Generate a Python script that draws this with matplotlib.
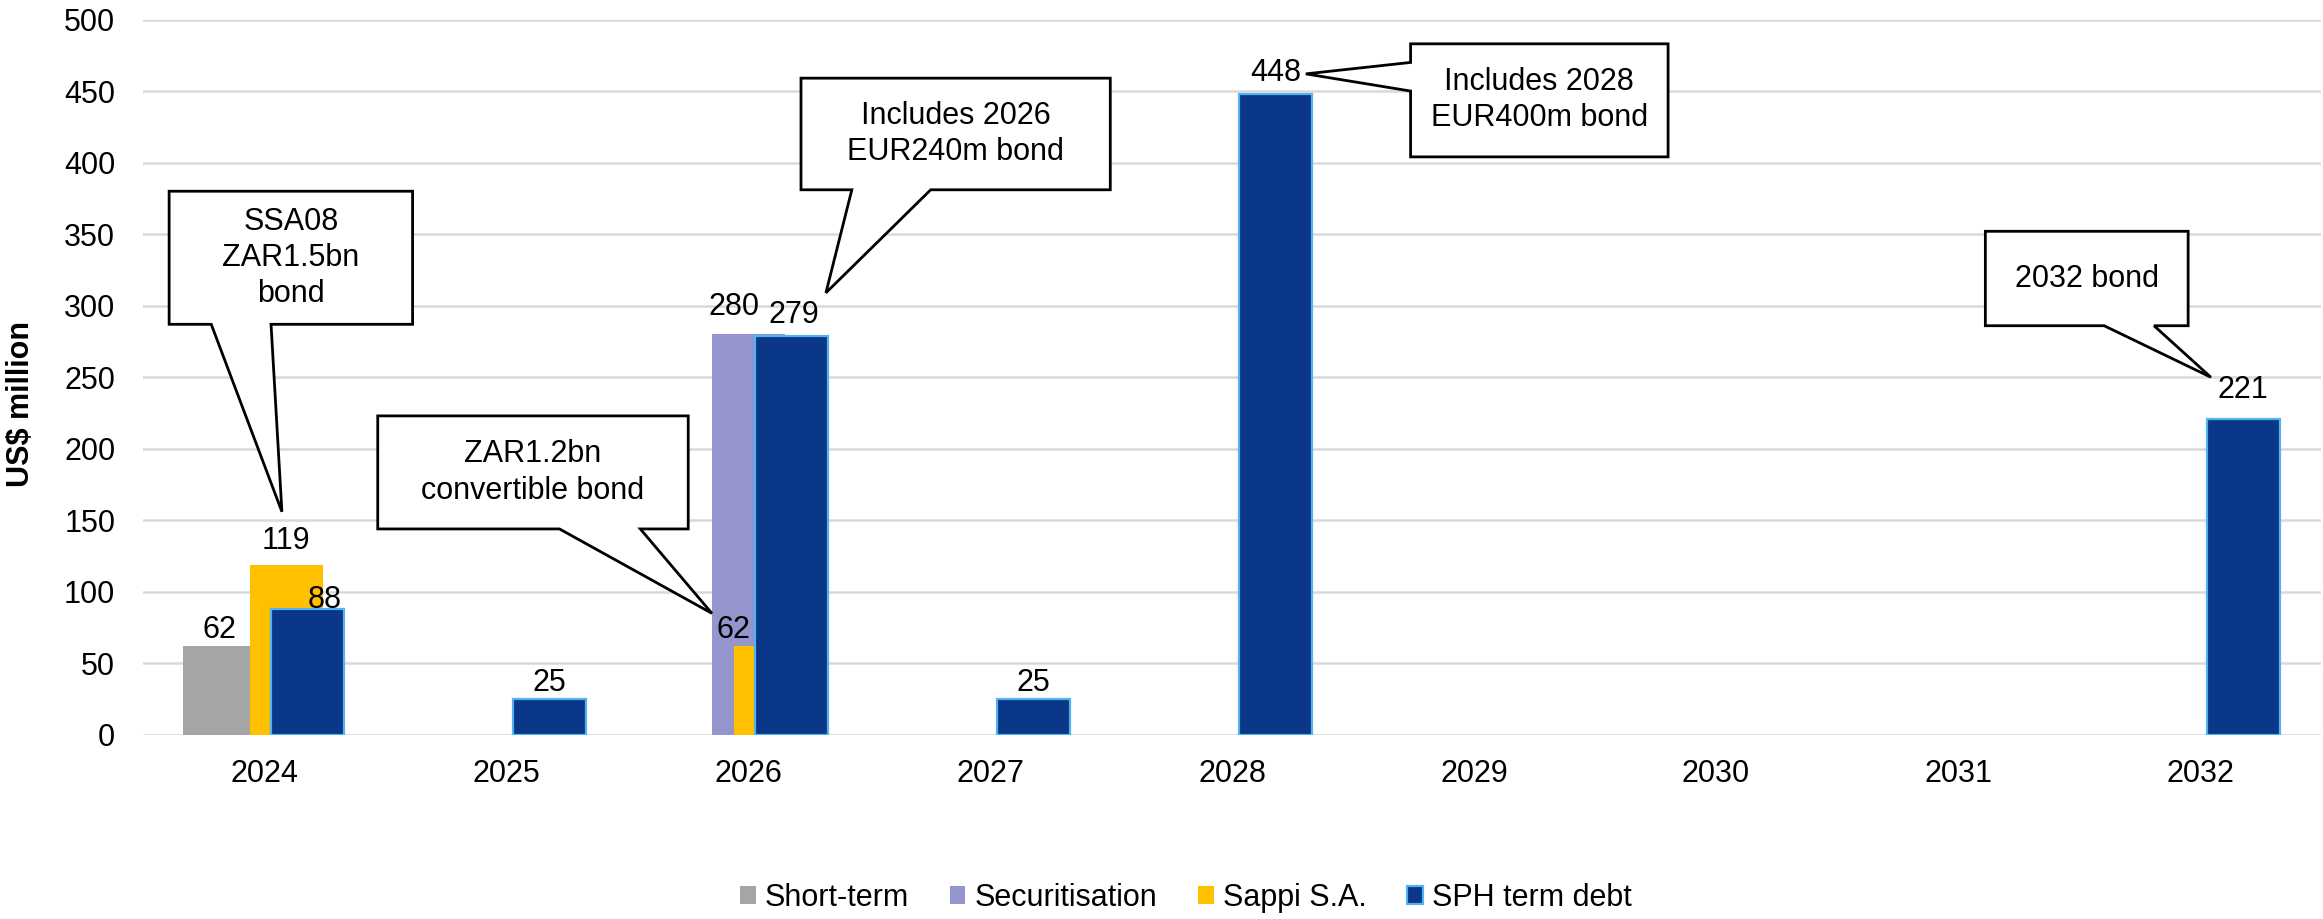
import numpy as np
import matplotlib
matplotlib.use('Agg')
import matplotlib.pyplot as plt
from matplotlib.patches import Polygon, Patch

plt.rcParams['font.family'] = ['Liberation Sans', 'DejaVu Sans']

#================================================================
# Debt maturity profile (US$ million)
years = ['2024', '2025', '2026', '2027', '2028', '2029', '2030', '2031', '2032']
short_term     = [62, None, None, None, None, None, None, None, None]
securitisation = [None, None, 280, None, None, None, None, None, None]
sappi_sa       = [119, None, 62, None, None, None, None, None, None]
sph_term_debt  = [88, 25, 279, 25, 448, None, None, None, 221]

series_names = ['Short-term', 'Securitisation', 'Sappi S.A.', 'SPH term debt']

#================================================================
# bar styling: (left offset within category, width, face, edge)
styles = {
    'Short-term':     (-0.334, 0.300, '#A5A5A5', None),
    'Securitisation': (-0.148, 0.300, '#9595CE', None),
    'Sappi S.A.':     (-0.058, 0.300, '#FFC000', None),
    'SPH term debt':  (0.029, 0.300, '#0B3788', '#55B2F2'),
}

# hand placed label nudges in pixels (dx, dy)
nudges = {
    ('Sappi S.A.', '2024'): (0, 7),
    ('SPH term debt', '2024'): (17, -7),
    ('Securitisation', '2026'): (-14, 11),
    ('Sappi S.A.', '2026'): (-37, 0),
    ('SPH term debt', '2026'): (3, 4),
    ('SPH term debt', '2028'): (0, 5),
    ('SPH term debt', '2032'): (0, 12),
}

# callouts: text, box (x0, x1, y0, y1), wedge base points, tip (data coords)
callouts = [
    ('SSA08\nZAR1.5bn\nbond', (-0.392, 0.614, 287, 380),
     [(0.029, 287), (-0.218, 287)], (0.074, 156)),
    ('ZAR1.2bn\nconvertible bond', (0.470, 1.753, 144, 223),
     [(1.555, 144), (1.221, 144)], (1.851, 85)),
    ('Includes 2026\nEUR240m bond', (2.219, 3.497, 381, 459),
     [(2.755, 381), (2.429, 381)], (2.322, 309)),
    ('Includes 2028\nEUR400m bond', (4.738, 5.802, 404, 483),
     [(4.738, 450), (4.738, 470)], (4.305, 462)),
    ('2032 bond', (7.113, 7.951, 286, 352),
     [(7.810, 286), (7.604, 286)], (8.045, 250)),
]

FS = 22
PX = 72.0 / 100  # points per pixel

#================================================================
def callout_shape(box, base, tip):
    x0, x1, y0, y1 = box
    b1, b2 = base
    if b1[1] == y0 and b2[1] == y0:
        # wedge on the bottom edge
        return [(x0, y1), (x1, y1), (x1, y0), b1, tip, b2, (x0, y0)]
    # wedge on the left edge
    return [(x0, y1), (x1, y1), (x1, y0), (x0, y0), b1, tip, b2]
#================================================================
def main():
    fig = plt.figure(figsize=(23.23, 9.19), dpi=100)
    ax = fig.add_axes([143 / 2323, 184 / 919, 2178 / 2323, 715.5 / 919])

    x = np.arange(len(years))
    data = dict(zip(series_names, [short_term, securitisation, sappi_sa, sph_term_debt]))

    for name in series_names:
        off, w, face, edge = styles[name]
        vals = np.array([np.nan if v is None else v for v in data[name]], dtype=float)
        mask = ~np.isnan(vals)
        ax.bar(x[mask] + off, vals[mask], width=w, align='edge', color=face,
               edgecolor=edge if edge else face, linewidth=1.6 if edge else 0,
               zorder=2)
        for xi, v in zip(x[mask], vals[mask]):
            dx, dy = nudges.get((name, years[xi]), (0, 0))
            ax.annotate(f'{v:.0f}', (xi + off + w / 2, v), xytext=(dx * PX, 1 + dy * PX),
                        textcoords='offset points', ha='center', va='bottom',
                        fontsize=FS, color='black', zorder=4)

    for text, box, base, tip in callouts:
        poly = Polygon(callout_shape(box, base, tip), closed=True, facecolor='white',
                       edgecolor='black', linewidth=2.0, zorder=5)
        ax.add_patch(poly)
        x0, x1, y0, y1 = box
        ax.text((x0 + x1) / 2, (y0 + y1) / 2, text, ha='center', va='center',
                fontsize=FS, linespacing=1.27, zorder=6)

    ax.set_xlim(-0.5, len(years) - 0.5)
    ax.set_ylim(0, 500)
    ax.set_yticks(np.arange(0, 501, 50))
    ax.set_xticks(x)
    ax.set_xticklabels(years)
    ax.tick_params(axis='both', length=0, labelsize=FS)
    ax.tick_params(axis='x', pad=17)
    ax.tick_params(axis='y', pad=20)
    ax.grid(axis='y', color='#D9D9D9', linewidth=1.8, zorder=0)
    ax.set_axisbelow(True)
    for sp in ax.spines.values():
        sp.set_visible(False)

    ax.set_ylabel('US$ million', fontsize=FS, fontweight='bold')
    ax.yaxis.set_label_coords(-0.049, 0.463)

    handles = []
    for name in series_names:
        off, w, face, edge = styles[name]
        handles.append(Patch(facecolor=face, edgecolor=edge if edge else face,
                             linewidth=1.6 if edge else 0, label=name))
    fig.legend(handles=handles, loc='center', bbox_to_anchor=(1186 / 2323, 21 / 919),
               ncol=4, frameon=False, fontsize=FS, handlelength=0.5, handleheight=0.5,
               handletextpad=0.3, columnspacing=1.34)

    fig.savefig('out.png', dpi=100)
#================================================================
if __name__ == '__main__':
    main()
